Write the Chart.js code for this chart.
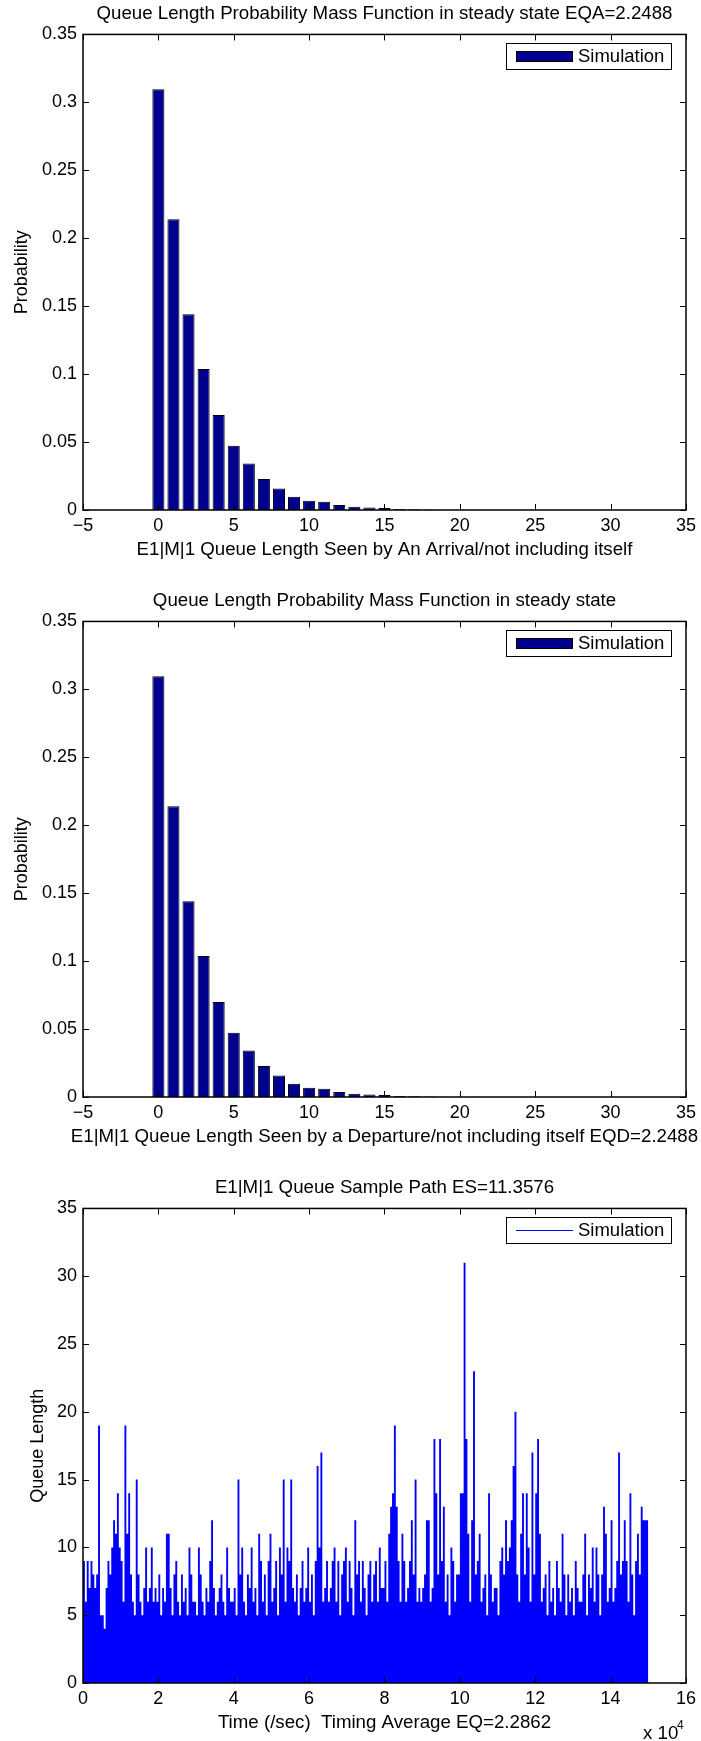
<!doctype html>
<html>
<head>
<meta charset="utf-8">
<title>E1|M|1 queue simulation</title>
<style>
body {margin: 0; background: #fff; width: 701px; height: 1741px; position: relative; overflow: hidden}
canvas {position: absolute; left: 0}
</style>
</head>
<body>
<canvas id="arrival" width="701" height="587" style="top: 0"></canvas>
<canvas id="departure" width="701" height="587" style="top: 587px"></canvas>
<canvas id="path" width="701" height="567" style="top: 1174px"></canvas>
<script src="https://cdn.jsdelivr.net/npm/chart.js"></script>
<script>
// queue length pmf
let queueLengths = [0, 1, 2, 3, 4, 5, 6, 7, 8, 9, 10, 11, 12, 13, 14, 15, 16, 17, 18, 19, 20, 21, 22, 23, 24, 25, 26, 27, 28, 29, 30, 31]
let arrivalPmf = [0.3096, 0.214, 0.144, 0.1037, 0.0699, 0.0473, 0.0343, 0.0228, 0.0159, 0.0098, 0.0068, 0.0061, 0.0037, 0.0024, 0.0019, 0.0015, 0.0007, 0.0005, 0.0004, 0.0002, 0.0001, 0.0001, 0.00005, 0.00005, 0.00003, 0.00002, 0.00002, 0.00001, 0.00001, 0.00001, 0.00001, 0.00001]
let departurePmf = [0.3096, 0.214, 0.144, 0.1037, 0.0699, 0.0473, 0.0343, 0.0228, 0.0159, 0.0098, 0.0068, 0.0061, 0.0037, 0.0024, 0.0019, 0.0015, 0.0007, 0.0005, 0.0004, 0.0002, 0.0001, 0.0001, 0.00005, 0.00005, 0.00003, 0.00002, 0.00002, 0.00001, 0.00001, 0.00001, 0.00001, 0.00001]
let pmfXTicks = [-5, 0, 5, 10, 15, 20, 25, 30, 35]
let pmfYTicks = [0, 0.05, 0.1, 0.15, 0.2, 0.25, 0.3, 0.35]

// sample path: highest queue length seen in each 500 s slice, one row per 10^4 s
let pathBinSec = 500
let pathMax = [
    11, 9, 6, 9, 7, 9, 8, 7, 8, 19, 5, 5, 4, 7, 9, 8, 10, 12, 11, 14,
    10, 9, 6, 19, 11, 14, 8, 6, 5, 15, 8, 6, 5, 7, 10, 6, 7, 10, 6, 7,
    6, 8, 5, 7, 6, 11, 11, 7, 5, 8, 9, 6, 5, 8, 6, 7, 5, 10, 8, 6,
    6, 5, 10, 8, 6, 5, 7, 6, 9, 12, 7, 5, 6, 7, 8, 6, 5, 10, 7, 6,
    6, 7, 5, 15, 8, 10, 6, 5, 8, 7, 10, 6, 7, 5, 11, 9, 6, 8, 5, 9,
    11, 6, 7, 9, 5, 10, 8, 15, 6, 10, 9, 15, 7, 6, 8, 5, 7, 9, 6, 7,
    10, 6, 8, 5, 9, 16, 10, 17, 6, 7, 9, 6, 7, 9, 10, 6, 9, 5, 8, 9,
    10, 6, 9, 7, 5, 12, 8, 9, 6, 9, 7, 5, 8, 9, 6, 8, 9, 6, 10, 7,
    7, 9, 6, 11, 13, 14, 19, 13, 9, 6, 11, 9, 6, 7, 9, 12, 8, 15, 6, 7,
    6, 7, 8, 12, 12, 6, 7, 18, 14, 8, 18, 9, 13, 6, 8, 5, 10, 9, 6, 8,
    8, 14, 14, 31, 18, 11, 6, 12, 23, 8, 9, 11, 6, 7, 8, 5, 14, 8, 6, 7,
    7, 5, 9, 10, 8, 12, 9, 10, 12, 16, 20, 8, 6, 11, 14, 8, 14, 10, 6, 17,
    8, 14, 18, 11, 6, 7, 8, 5, 9, 6, 7, 5, 9, 7, 6, 11, 8, 5, 8, 6,
    7, 5, 9, 7, 6, 6, 8, 11, 5, 8, 7, 10, 6, 10, 8, 5, 8, 13, 11, 6,
    7, 12, 6, 7, 9, 17, 8, 9, 12, 9, 6, 14, 8, 5, 9, 11, 8, 13, 12, 12
]
let pathXTicks = [0, 20000, 40000, 60000, 80000, 100000, 120000, 140000, 160000]
let pathXLabels = ['0', '2', '4', '6', '8', '10', '12', '14', '16']
let pathYTicks = [0, 5, 10, 15, 20, 25, 30, 35]

let font = '"Liberation Sans", Arial, sans-serif'
Chart.defaults.font.family = font
Chart.defaults.font.size = 18
Chart.defaults.color = '#000'
Chart.defaults.animation = false

function fixedTicks(values) {
    return function (scale) {
        scale.ticks = values.map(function (value) { return {value} })
    }
}

// matlab style box with inward ticks on all four sides
let boxAxes = {
    id: 'boxAxes',
    afterDatasetsDraw: function (chart) {
        let {ctx, chartArea: a, scales: {x, y}} = chart
        let len = 6
        ctx.save()
        ctx.strokeStyle = '#000'
        ctx.lineWidth = 1
        ctx.beginPath()
        for (let t of x.ticks) {
            let px = Math.round(x.getPixelForValue(t.value)) + 0.5
            ctx.moveTo(px, a.bottom); ctx.lineTo(px, a.bottom - len)
            ctx.moveTo(px, a.top); ctx.lineTo(px, a.top + len)
        }
        for (let t of y.ticks) {
            let py = Math.round(y.getPixelForValue(t.value)) + 0.5
            ctx.moveTo(a.left, py); ctx.lineTo(a.left + len, py)
            ctx.moveTo(a.right, py); ctx.lineTo(a.right - len, py)
        }
        ctx.stroke()
        ctx.lineWidth = 1.5
        ctx.strokeRect(a.left, a.top, a.right - a.left, a.bottom - a.top)
        ctx.restore()
    }
}

let boxLegend = {
    id: 'boxLegend',
    afterDraw: function (chart) {
        let {ctx, chartArea: a} = chart
        let ds = chart.data.datasets[0]
        let w = 165, h = 26
        let left = Math.round(a.right - 15 - w), top = Math.round(a.top + 9)
        let mid = top + h / 2
        ctx.save()
        ctx.fillStyle = '#fff'
        ctx.fillRect(left, top, w, h)
        ctx.strokeStyle = '#000'
        ctx.lineWidth = 1
        ctx.strokeRect(left + 0.5, top + 0.5, w, h)
        if (chart.config.type === 'bar') {
            ctx.fillStyle = ds.backgroundColor
            ctx.fillRect(left + 10, mid - 5, 57, 11)
            ctx.strokeRect(left + 10.5, mid - 4.5, 56, 10)
        } else {
            ctx.strokeStyle = ds.backgroundColor
            ctx.beginPath()
            ctx.moveTo(left + 10, Math.round(mid) + 0.5)
            ctx.lineTo(left + 67, Math.round(mid) + 0.5)
            ctx.stroke()
        }
        ctx.fillStyle = '#000'
        ctx.font = '18.5px ' + font
        ctx.textBaseline = 'middle'
        ctx.fillText(ds.label, left + 72, mid + 1)
        ctx.restore()
    }
}

// x axis label, allowed to run past the plot edges like the original
let xLabel = {
    id: 'xLabel',
    afterDraw: function (chart, args, opts) {
        let {ctx, chartArea: a} = chart
        ctx.save()
        ctx.fillStyle = '#000'
        ctx.font = '18.7px ' + font
        ctx.textAlign = 'center'
        ctx.textBaseline = 'middle'
        ctx.fillText(opts.text, (a.left + a.right) / 2, a.bottom + opts.offset)
        if (opts.exponent) {
            ctx.textAlign = 'left'
            ctx.textBaseline = 'alphabetic'
            ctx.fillText('x 10', 643, a.bottom + 56)
            ctx.font = '12px ' + font
            ctx.fillText(opts.exponent, 677, a.bottom + 46)
        }
        ctx.restore()
    }
}

function pmfChart(id, pmf, title, xlabel) {
    return new Chart(document.getElementById(id), {
        type: 'bar',
        data: {datasets: [{
            label: 'Simulation',
            data: queueLengths.map(function (q, i) { return {x: q, y: pmf[i]} }),
            backgroundColor: '#00008f',
            borderColor: '#000',
            borderWidth: 1,
            barPercentage: 0.8,
            categoryPercentage: 1
        }]},
        options: {
            responsive: false,
            layout: {padding: {left: 0, right: 13, top: 0, bottom: 0}},
            plugins: {
                legend: {display: false},
                tooltip: {enabled: false},
                title: {display: true, text: title, fullSize: false, padding: {top: 3, bottom: 9}, font: {size: 18.7, weight: 'normal'}, color: '#000'},
                xLabel: {text: xlabel, offset: 40}
            },
            scales: {
                x: {
                    type: 'linear', min: -5, max: 35, offset: false,
                    afterBuildTicks: fixedTicks(pmfXTicks),
                    afterFit: function (scale) { scale.height = 77 },
                    grid: {display: false, drawTicks: false, offset: false},
                    border: {display: false},
                    ticks: {padding: 5, autoSkip: false, maxRotation: 0, callback: function (v) { return String(v).replace('-', '\u2212') }}
                },
                y: {
                    min: 0, max: 0.35,
                    afterBuildTicks: fixedTicks(pmfYTicks),
                    afterFit: function (scale) { scale.width = 83 },
                    grid: {display: false, drawTicks: false},
                    border: {display: false},
                    ticks: {padding: 6, callback: function (v) { return String(v) }},
                    title: {display: true, text: 'Probability', padding: {top: 11, bottom: 0}}
                }
            }
        },
        plugins: [boxAxes, boxLegend, xLabel]
    })
}

pmfChart('arrival', arrivalPmf,
    'Queue Length Probability Mass Function in steady state EQA=2.2488',
    'E1|M|1 Queue Length Seen by An Arrival/not including itself')
pmfChart('departure', departurePmf,
    'Queue Length Probability Mass Function in steady state',
    'E1|M|1 Queue Length Seen by a Departure/not including itself EQD=2.2488')

// each slice is filled up to the highest queue length reached in it
let pathPoints = pathMax.map(function (q, i) { return {x: i * pathBinSec, y: q} })
pathPoints.push({x: pathMax.length * pathBinSec, y: pathMax[pathMax.length - 1]})

new Chart(document.getElementById('path'), {
    type: 'line',
    data: {datasets: [{
        label: 'Simulation',
        data: pathPoints,
        borderColor: 'rgba(0, 0, 255, 0)',
        backgroundColor: '#0000ff',
        borderWidth: 1,
        pointRadius: 0,
        stepped: 'after',
        fill: 'origin'
    }]},
    options: {
        responsive: false,
        layout: {padding: {left: 0, right: 13, top: 0, bottom: 0}},
        plugins: {
            legend: {display: false},
            tooltip: {enabled: false},
            title: {display: true, text: 'E1|M|1 Queue Sample Path ES=11.3576', fullSize: false, padding: {top: 3, bottom: 9}, font: {size: 18.7, weight: 'normal'}, color: '#000'},
            xLabel: {text: 'Time (/sec)  Timing Average EQ=2.2862', offset: 40, exponent: '4'}
        },
        scales: {
            x: {
                type: 'linear', min: 0, max: 160000,
                afterBuildTicks: fixedTicks(pathXTicks),
                afterFit: function (scale) { scale.height = 58 },
                grid: {display: false, drawTicks: false},
                border: {display: false},
                ticks: {padding: 5, autoSkip: false, maxRotation: 0, callback: function (v, i) { return pathXLabels[i] }}
            },
            y: {
                min: 0, max: 35,
                afterBuildTicks: fixedTicks(pathYTicks),
                afterFit: function (scale) { scale.width = 83 },
                grid: {display: false, drawTicks: false},
                border: {display: false},
                ticks: {padding: 6},
                title: {display: true, text: 'Queue Length', padding: {top: 27, bottom: 0}}
            }
        }
    },
    plugins: [boxAxes, boxLegend, xLabel]
})
</script>
</body>
</html>
